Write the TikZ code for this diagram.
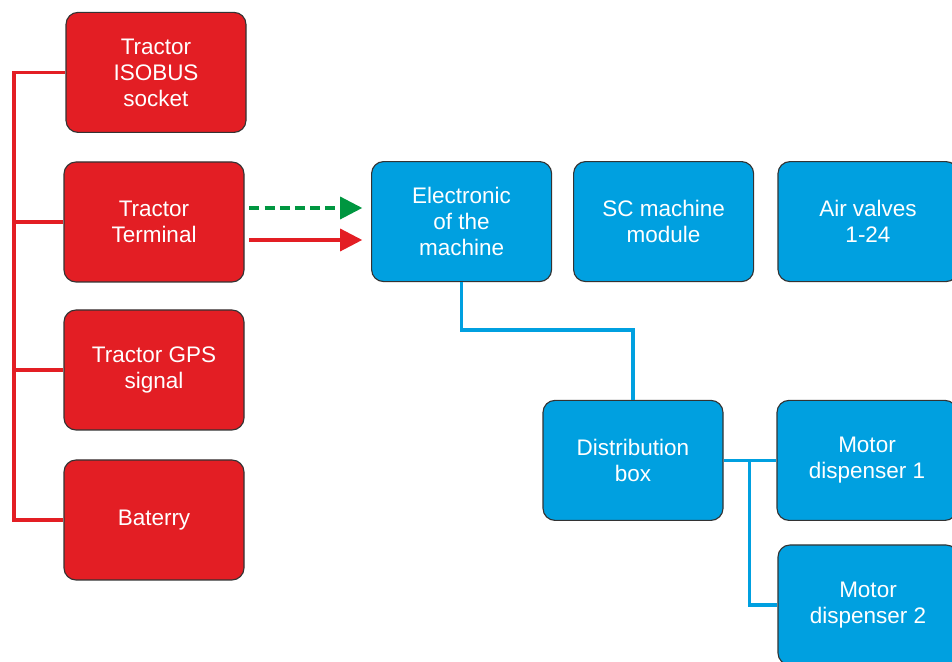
\documentclass[tikz,border=0pt]{standalone}
\usepackage{fontspec}
\setmainfont{Liberation Sans}
\usetikzlibrary{arrows.meta}
\definecolor{boxred}{HTML}{E31E24}
\definecolor{boxblue}{HTML}{00A0E0}
\definecolor{arrgreen}{HTML}{009640}
\begin{document}
\begin{tikzpicture}[
  box/.style={draw=black!80,line width=0.8pt,rounded corners=0.3cm,minimum width=4.5cm,minimum height=3cm,
    align=center,text=white,font=\fontsize{16}{18.5}\selectfont},
  redbox/.style={box,fill=boxred},
  bluebox/.style={box,fill=boxblue},
  redline/.style={draw=boxred,line width=2.2pt},
  blueline/.style={draw=boxblue,line width=2.6pt},
  tip/.style={-{Triangle[length=0.55cm,width=0.55cm]},line width=2.2pt,shorten <=0.12cm,shorten >=0.22cm}]
\useasboundingbox (0,0) rectangle (23.8,16.55);

\node[redbox] (iso) at (3.9,14.74) {Tractor\\ISOBUS\\socket};
\node[redbox] (term) at (3.85,11.0) {Tractor\\Terminal};
\node[redbox] (gps) at (3.85,7.3) {Tractor GPS\\signal};
\node[redbox] (bat) at (3.85,3.55) {Baterry};

\node[bluebox] (elec) at (11.54,11.01) {Electronic\\of the\\machine};
\node[bluebox] (sc) at (16.59,11.01) {SC machine\\module};
\node[bluebox] (air) at (21.7,11.01) {Air valves\\1-24};
\node[bluebox] (dist) at (15.825,5.04) {Distribution\\box};
\node[bluebox] (m1) at (21.675,5.04) {Motor\\dispenser 1};
\node[bluebox] (m2) at (21.7,1.425) {Motor\\dispenser 2};

\coordinate (btop) at (0.35,14.74);
\coordinate (bbot) at (0.35,3.55);
\draw[redline] (iso.west) -- (btop) -- (bbot) -- (bat.west);
\draw[redline] (term.west) -- (term.west -| btop);
\draw[redline] (gps.west) -- (gps.west -| btop);

\draw[tip,arrgreen,dash pattern=on 0.25cm off 0.13cm] ([yshift=0.35cm]term.east) -- ([yshift=0.35cm]term.east -| elec.west);
\draw[tip,boxred] ([yshift=-0.45cm]term.east) -- ([yshift=-0.45cm]term.east -| elec.west);

\draw[blueline] (elec.south) -- ++(0,-1.2) -| (dist.north);
\draw[blueline] (dist.east) -- (m1.west);
\draw[blueline] ([xshift=0.65cm]dist.east) |- (m2.west);
\end{tikzpicture}
\end{document}
